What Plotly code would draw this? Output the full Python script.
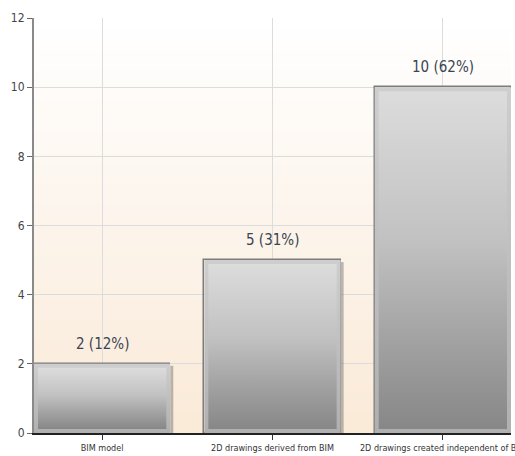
import plotly.graph_objects as go

categories = ["BIM model", "2D drawings derived from BIM", "2D drawings created independent of BIM"]
counts = [2, 5, 10]
shares = [12, 31, 62]
y_ticks = [0, 2, 4, 6, 8, 10, 12]

BAR_W = 0.8
FONT = "DejaVu Sans Condensed, Liberation Sans, sans-serif"
BAR_SCALE = [[0, "#878787"], [0.3, "#a6a6a6"], [0.55, "#c1c1c1"], [1, "#dcdcdc"]]
RIM_SCALE = [[0, "#b0b0b0"], [1, "#cecece"]]
# pixel-ish offsets expressed in axis units (approx 170 px per category, 34.6 px per y unit)
PX_X, PX_Y = 1 / 170.5, 1 / 34.6


def mix(c1, c2, t):
    return "#" + "".join(f"{round(a + (b - a) * t):02x}" for a, b in zip(c1, c2))


def rect(x0, x1, y0, y1):
    return [x0, x1, x1, x0, x0], [y0, y0, y1, y1, y0]


fig = go.Figure()

for i, v in enumerate(counts):
    x0, x1 = i - BAR_W / 2, i + BAR_W / 2
    # soft drop shadow on the right
    xs, ys = rect(x1, x1 + 3 * PX_X, 0, v - 2 * PX_Y)
    fig.add_scatter(x=xs, y=ys, mode="lines", fill="toself",
                    fillcolor="rgba(90,90,90,0.4)", line={"width": 0},
                    hoverinfo="skip", showlegend=False)
    # light bevel rim
    xs, ys = rect(x0, x1, 0, v)
    fig.add_scatter(x=xs, y=ys, mode="lines", fill="toself",
                    fillgradient={"type": "vertical", "colorscale": RIM_SCALE},
                    line={"width": 0}, hoverinfo="skip", showlegend=False)
    # gradient body
    xs, ys = rect(x0 + 4 * PX_X, x1 - 4 * PX_X, 4 * PX_Y, v - 4 * PX_Y)
    fig.add_scatter(x=xs, y=ys, mode="lines", fill="toself",
                    fillgradient={"type": "vertical", "colorscale": BAR_SCALE},
                    line={"width": 0}, hoverinfo="skip", showlegend=False)

# bar outline
fig.add_bar(
    x=list(range(len(categories))),
    y=counts,
    width=BAR_W,
    marker={"color": "rgba(0,0,0,0)", "line": {"color": "#7c7c7c", "width": 1.5}},
    hoverinfo="skip",
    showlegend=False,
)

# value labels above bars
for i, (c, s) in enumerate(zip(counts, shares)):
    fig.add_annotation(
        x=i, y=c, text=f"{c} ({s}%)", showarrow=False,
        yshift=20, font={"family": FONT, "size": 15, "color": "#3a4550"},
    )

# light peach gradient background, drawn beneath gridlines
n = 40
top, bottom = (255, 255, 255), (250, 234, 216)
for k in range(n):
    fig.add_shape(
        type="rect", xref="x domain", yref="y domain",
        x0=0, x1=1, y0=k / n, y1=(k + 1) / n + 0.002,
        fillcolor=mix(bottom, top, k / (n - 1)),
        line={"width": 0}, layer="below",
    )

fig.update_layout(
    width=515,
    height=456,
    paper_bgcolor="white",
    plot_bgcolor="white",
    margin={"l": 34, "r": 4, "t": 18, "b": 23},
    font={"family": FONT, "size": 12, "color": "#444"},
    bargap=0,
)
fig.update_xaxes(
    range=[-0.4, 2.4],
    tickvals=list(range(len(categories))),
    ticktext=categories,
    tickfont={"size": 9, "color": "#333"},
    ticklabeloverflow="allow",
    automargin=False,
    showgrid=True,
    gridcolor="#dcdcdc",
    gridwidth=1,
    showline=True,
    linecolor="#222",
    linewidth=1.5,
    ticks="outside",
    ticklen=5,
    tickcolor="#333",
    zeroline=False,
)
fig.update_yaxes(
    range=[0, 12],
    tickvals=y_ticks,
    tickfont={"size": 12, "color": "#444"},
    automargin=False,
    showgrid=True,
    gridcolor="#dcdcdc",
    gridwidth=1,
    showline=True,
    linecolor="#8a8a8a",
    linewidth=2,
    ticks="outside",
    ticklen=5,
    tickcolor="#666",
    zeroline=False,
)

# drop the default 8px page margin so the figure fills the window exactly
fig.write_html(
    "out.html",
    config={"displayModeBar": False},
    post_script="document.body.style.margin='0';",
)
